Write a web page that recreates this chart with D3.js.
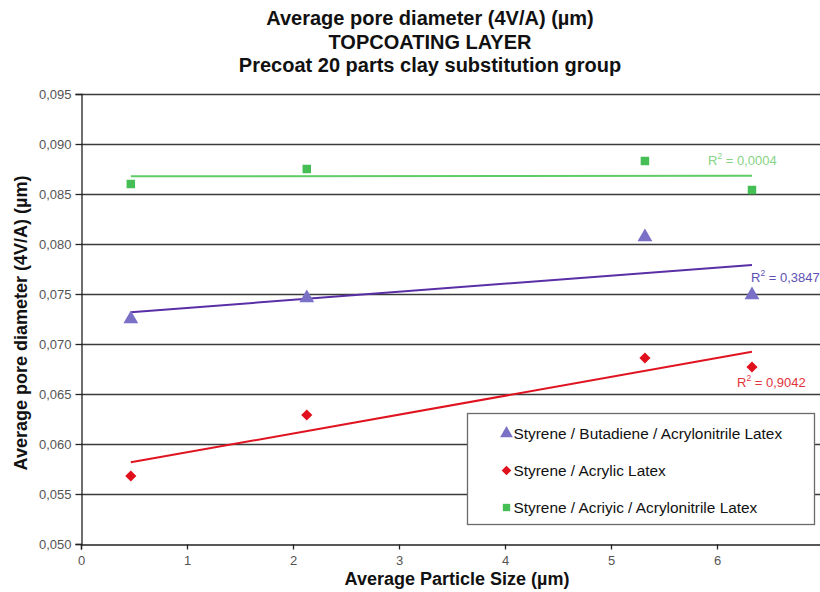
<!DOCTYPE html>
<html>
<head>
<meta charset="utf-8">
<script src="https://cdn.jsdelivr.net/npm/d3@7"></script>
<style>
 body{margin:0;background:#fff;}
 svg{display:block;font-family:"Liberation Sans",Arial,sans-serif;}
</style>
</head>
<body>
<div id="chart"></div>
<script>
// data
var particleSize = [0.47, 2.13, 5.32, 6.33];
var sbaLatex = [0.0725, 0.0746, 0.0807, 0.0749];
var saLatex = [0.0568, 0.0629, 0.0686, 0.0677];
var saaLatex = [0.0860, 0.0875, 0.0883, 0.0854];
var seriesNames = ["Styrene / Butadiene / Acrylonitrile Latex", "Styrene / Acrylic Latex", "Styrene / Acriyic / Acrylonitrile Latex"];
var r2Labels = ["0,3847", "0,9042", "0,0004"];
var titleLines = ["Average pore diameter (4V/A) (\u00b5m)", "TOPCOATING LAYER", "Precoat 20 parts clay substitution group"];
var yTicks = [0.050, 0.055, 0.060, 0.065, 0.070, 0.075, 0.080, 0.085, 0.090, 0.095];
var xTicks = [0, 1, 2, 3, 4, 5, 6];

var width = 820, height = 592;
var pLeft = 81, pTop = 94, pRight = 823, pBottom = 544;

var svg = d3.select("#chart").append("svg")
    .attr("width", width)
    .attr("height", height);

var x = d3.scaleLinear().domain([0, 7]).range([pLeft, pRight]);
var y = d3.scaleLinear().domain([0.050, 0.095]).range([pBottom, pTop]);

var comma = d3.formatLocale({decimal: ",", thousands: ".", grouping: [3], currency: ["", ""]}).format(".3f");

// title
svg.append("g").selectAll("text")
    .data(titleLines)
    .enter().append("text")
    .attr("x", 430)
    .attr("y", function(d, i) { return 25 + i * 23.5; })
    .attr("text-anchor", "middle")
    .style("font-size", "20px")
    .style("font-weight", "bold")
    .attr("fill", "#111")
    .text(function(d) { return d; });

// horizontal grid
svg.append("g").selectAll("line")
    .data(yTicks.slice(1))
    .enter().append("line")
    .attr("x1", pLeft).attr("x2", width)
    .attr("y1", function(d) { return Math.round(y(d)) + 0.5; })
    .attr("y2", function(d) { return Math.round(y(d)) + 0.5; })
    .attr("stroke", "#3a3a3a")
    .attr("stroke-width", 1.3);

// axes
var yAxis = svg.append("g")
    .attr("transform", "translate(" + (pLeft + 0.5) + ",0)")
    .call(d3.axisLeft(y).tickValues(yTicks).tickFormat(comma).tickSize(6).tickPadding(4));
var xAxis = svg.append("g")
    .attr("transform", "translate(0," + (pBottom + 0.5) + ")")
    .call(d3.axisBottom(x).tickValues(xTicks).tickFormat(d3.format("d")).tickSize(5).tickPadding(6));

[yAxis, xAxis].forEach(function(a) {
  a.select(".domain").attr("stroke", "#222").attr("stroke-width", 1.3);
  a.selectAll(".tick line").attr("stroke", "#222").attr("stroke-width", 1.3);
  a.selectAll(".tick text").attr("fill", "#555").style("font-size", "13px")
      .style("font-family", "'Liberation Sans',Arial,sans-serif");
});

// axis titles
svg.append("text")
    .attr("transform", "translate(27," + ((pTop + pBottom) / 2 + 4) + ") rotate(-90)")
    .attr("text-anchor", "middle")
    .style("font-size", "18px")
    .style("font-weight", "bold")
    .attr("fill", "#111")
    .text("Average pore diameter (4V/A) (\u00b5m)");
svg.append("text")
    .attr("x", 457).attr("y", 585)
    .attr("text-anchor", "middle")
    .style("font-size", "18px")
    .style("font-weight", "bold")
    .attr("fill", "#111")
    .text("Average Particle Size (\u00b5m)");

// linear fit
function fit(xs, ys) {
  var mx = d3.mean(xs), my = d3.mean(ys);
  var sxy = d3.sum(xs, function(d, i) { return (d - mx) * (ys[i] - my); });
  var sxx = d3.sum(xs, function(d) { return (d - mx) * (d - mx); });
  var b = sxy / sxx;
  return function(v) { return my + b * (v - mx); };
}

var series = [
  {name: seriesNames[0], values: sbaLatex, marker: d3.symbolTriangle, size: 95, rot: 0, color: "#7a70c6", line: "#5a2fa6", label: "#5e50b4", r2: r2Labels[0], lx: 751, ly: 282},
  {name: seriesNames[1], values: saLatex, marker: d3.symbolSquare, size: 62, rot: 45, color: "#e0101c", line: "#e01420", label: "#e2343c", r2: r2Labels[1], lx: 737, ly: 387},
  {name: seriesNames[2], values: saaLatex, marker: d3.symbolSquare, size: 72, rot: 0, color: "#44be55", line: "#5fcc68", label: "#86d486", r2: r2Labels[2], lx: 708, ly: 165}
];

var xExt = d3.extent(particleSize);

series.forEach(function(s) {
  var f = fit(particleSize, s.values);
  svg.append("line")
      .attr("x1", x(xExt[0])).attr("y1", y(f(xExt[0])))
      .attr("x2", x(xExt[1])).attr("y2", y(f(xExt[1])))
      .attr("stroke", s.line)
      .attr("stroke-width", 2);

  svg.append("g").selectAll("path")
      .data(s.values)
      .enter().append("path")
      .attr("d", d3.symbol().type(s.marker).size(s.size))
      .attr("transform", function(d, i) { return "translate(" + x(particleSize[i]) + "," + y(d) + ") rotate(" + s.rot + ")"; })
      .attr("fill", s.color);

  var t = svg.append("text")
      .attr("x", s.lx).attr("y", s.ly)
      .style("font-size", "13px")
      .attr("fill", s.label);
  t.append("tspan").text("R");
  t.append("tspan").attr("dy", -6).style("font-size", "8.5px").text("2");
  t.append("tspan").attr("dy", 6).text(" = " + s.r2);
});

// legend
var lg = svg.append("g").attr("transform", "translate(467.5,413.5)");
lg.append("rect")
    .attr("width", 347).attr("height", 111)
    .attr("fill", "#fff")
    .attr("stroke", "#6a6a6a")
    .attr("stroke-width", 1.3);
lg.selectAll("g.item")
    .data(series)
    .enter().append("g")
    .attr("class", "item")
    .attr("transform", function(d, i) { return "translate(0," + (20 + i * 37) + ")"; })
    .each(function(d) {
      var g = d3.select(this);
      g.append("path")
          .attr("d", d3.symbol().type(d.marker).size(d.size * 0.75))
          .attr("transform", "translate(39,0) rotate(" + d.rot + ")")
          .attr("fill", d.color);
      g.append("text")
          .attr("x", 46).attr("y", 5)
          .style("font-size", "15.4px")
          .attr("fill", "#111")
          .text(d.name);
    });
</script>
</body>
</html>
